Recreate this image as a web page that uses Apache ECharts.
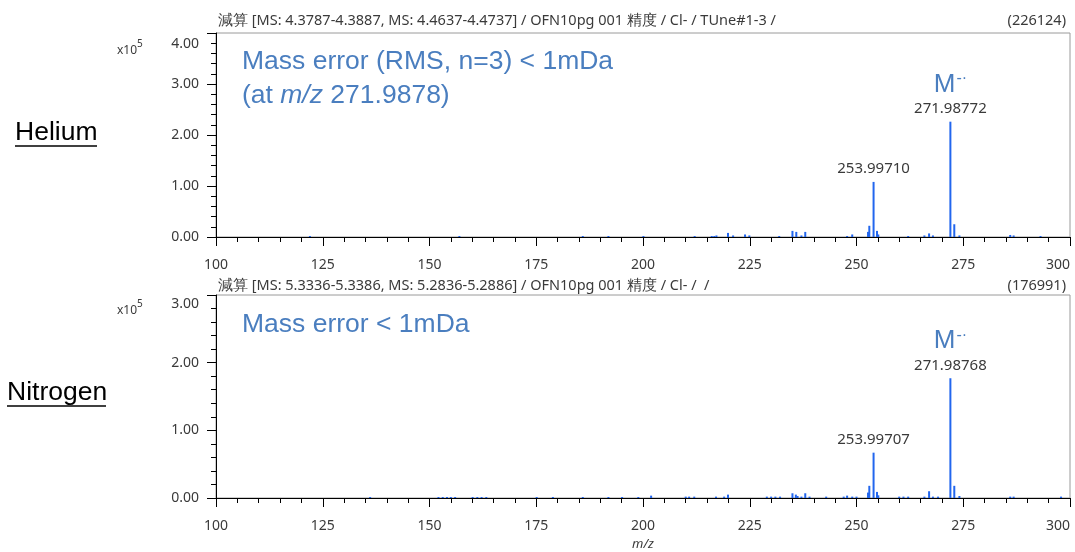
<!DOCTYPE html>
<html><head><meta charset="utf-8">
<script src="https://cdn.jsdelivr.net/npm/echarts@6/dist/echarts.min.js"></script>
<style>html,body{margin:0;padding:0;background:#fff}#c{width:1075px;height:552px}</style>
</head><body><div id="c"></div>
<script>
// ---- data (intensity in units of x10^5) ----
const xTickValues = [100, 125, 150, 175, 200, 225, 250, 275, 300];

const heMz  = [122.0,157.0,185.9,191.9,200.1,212.1,216.1,216.7,217.2,219.9,221.1,223.9,224.9,231.9,235.0,235.9,237.1,238.0,247.8,249.0,252.7,253.0,253.99710,254.8,255.1,262.1,265.9,267.0,267.9,271.98772,272.9,274.1,286.0,286.8,293.1];
const heInt = [0.02,0.02,0.02,0.02,0.02,0.02,0.02,0.02,0.03,0.08,0.03,0.05,0.03,0.02,0.12,0.10,0.03,0.10,0.02,0.05,0.10,0.22,1.08,0.12,0.05,0.02,0.03,0.07,0.03,2.26124,0.25,0.03,0.04,0.03,0.02];

const n2Mz  = [136.1,152.1,153.1,154.1,155.0,156.0,160.1,161.2,162.2,163.3,175.1,178.9,185.9,191.9,195.1,198.9,201.9,210.0,210.8,212.0,217.1,219.0,219.9,229.0,230.0,231.0,232.1,235.0,235.8,236.2,237.1,238.0,239.0,242.9,247.0,247.8,249.0,250.0,252.7,253.0,253.99707,254.8,255.1,260.0,261.0,262.1,265.9,267.0,267.9,269.1,271.98768,272.9,274.1,286.0,286.8,297.9];
const n2Int = [0.015,0.015,0.015,0.015,0.015,0.015,0.015,0.015,0.015,0.015,0.015,0.015,0.015,0.015,0.015,0.015,0.035,0.02,0.02,0.02,0.02,0.02,0.05,0.02,0.02,0.02,0.02,0.07,0.05,0.03,0.02,0.07,0.02,0.02,0.02,0.035,0.02,0.02,0.08,0.18,0.67,0.09,0.04,0.02,0.02,0.02,0.02,0.10,0.02,0.02,1.76991,0.18,0.03,0.02,0.02,0.02];

const heLabelled = [253.99710, 271.98772];
const n2Labelled = [253.99707, 271.98768];
const heIon = 271.98772;
const n2Ion = 271.98768;

const heTitle = '減算 [MS: 4.3787-4.3887, MS: 4.4637-4.4737] / OFN10pg 001 精度 / Cl- / TUne#1-3 /';
const heBase = '(226124)';
const n2Title = '減算 [MS: 5.3336-5.3386, MS: 5.2836-5.2886] / OFN10pg 001 精度 / Cl- /  /';
const n2Base = '(176991)';

const BLUE = '#4a7ebf';
const BAR = '#2266ee';
const TXT = '#3a3a3a';
const FONT = 'Noto Sans';
const BIG = 'Liberation Sans';

function buildData(mz, inten, labelled, ion) {
  return mz.map((m, i) => {
    const item = { value: [m, inten[i]] };
    if (labelled.indexOf(m) >= 0) {
      const isIon = m === ion;
      item.label = {
        show: true, position: 'top', distance: 3,
        formatter: isIon ? '{m|M}{s|-·}\n{v|' + m.toFixed(5) + '}' : '{v|' + m.toFixed(5) + '}',
        rich: {
          m: { fontSize: 26, color: BLUE, fontFamily: BIG, lineHeight: 28 },
          s: { fontSize: 16, color: BLUE, fontFamily: BIG, verticalAlign: 'top', lineHeight: 16, padding: [0, 0, 12, 1] },
          v: { fontSize: 15, color: TXT, fontFamily: FONT, lineHeight: 20 }
        }
      };
    }
    return item;
  });
}

function xAxis(gridIndex, withName) {
  return {
    type: 'value', gridIndex, min: 100, max: 300, interval: 25,
    axisLine: { lineStyle: { color: '#000', width: 1 } },
    axisTick: { show: true, length: 9, lineStyle: { color: '#000' } },
    minorTick: { show: true, splitNumber: 5, length: 5, lineStyle: { color: '#000' } },
    splitLine: { show: false },
    axisLabel: { color: TXT, fontSize: 14, fontFamily: FONT, margin: 21, alignMaxLabel: 'right' },
    name: withName ? 'm/z' : '', nameLocation: 'middle', nameGap: 40,
    nameTextStyle: { fontStyle: 'italic', fontSize: 13, color: TXT, fontFamily: FONT }
  };
}
function yAxis(gridIndex, max, topPad) {
  return {
    type: 'value', gridIndex, min: 0, max, interval: 1,
    axisLine: { show: true, lineStyle: { color: '#000', width: 1 } },
    axisTick: { show: true, length: 9, lineStyle: { color: '#000' } },
    minorTick: { show: true, splitNumber: 5, length: 5, lineStyle: { color: '#000' } },
    splitLine: { show: false },
    axisLabel: {
      color: TXT, fontSize: 14, fontFamily: FONT, margin: 17,
      formatter: v => v === max ? '{t|' + v.toFixed(2) + '}' : v.toFixed(2),
      rich: { t: { padding: [topPad, 0, 0, 0], fontSize: 14, color: TXT, fontFamily: FONT } }
    }
  };
}

const chart = echarts.init(document.getElementById('c'));
const txt = (x, y, text, size, color, extra) => Object.assign({
  type: 'text', x, y,
  style: Object.assign({ text, fontSize: size, fill: color, fontFamily: FONT, verticalAlign: 'middle' }, extra || {})
});
chart.setOption({
  animation: false,
  grid: [
    { left: 216, right: 5, top: 33, height: 204, show: true, borderColor: '#9a9a9a', borderWidth: 1, outerBoundsMode: 'none', containLabel: false },
    { left: 216, right: 5, top: 295, height: 203, show: true, borderColor: '#9a9a9a', borderWidth: 1, outerBoundsMode: 'none', containLabel: false }
  ],
  xAxis: [xAxis(0, false), xAxis(1, true)],
  yAxis: [yAxis(0, 4, 22), yAxis(1, 3, 18)],
  series: [
    { type: 'bar', xAxisIndex: 0, yAxisIndex: 0, barWidth: 2, itemStyle: { color: BAR }, data: buildData(heMz, heInt, heLabelled, heIon) },
    { type: 'bar', xAxisIndex: 1, yAxisIndex: 1, barWidth: 2, itemStyle: { color: BAR }, data: buildData(n2Mz, n2Int, n2Labelled, n2Ion) }
  ],
  graphic: [
    txt(218, 21, heTitle, 14.5, TXT),
    txt(1066, 21, heBase, 14.5, TXT, { align: 'right' }),
    txt(218, 286, n2Title, 14.5, TXT),
    txt(1066, 286, n2Base, 14.5, TXT, { align: 'right' }),
    txt(117, 51, 'x10', 12, TXT),
    txt(137, 44, '5', 10, TXT),
    txt(117, 311, 'x10', 12, TXT),
    txt(137, 304, '5', 10, TXT),
    txt(15, 133, 'Helium', 26.5, '#000', { fontFamily: BIG }),
    { type: 'line', shape: { x1: 15, y1: 146, x2: 97, y2: 146 }, style: { stroke: '#000', lineWidth: 1.5 } },
    txt(7, 393, 'Nitrogen', 26.5, '#000', { fontFamily: BIG }),
    { type: 'line', shape: { x1: 7, y1: 406, x2: 106, y2: 406 }, style: { stroke: '#000', lineWidth: 1.5 } },
    txt(242, 62, 'Mass error (RMS, n=3) < 1mDa', 26.5, BLUE, { fontFamily: BIG }),
    { type: 'text', x: 242, y: 96, style: {
      text: '{a|(at }{i|m/z}{a| 271.9878)}', verticalAlign: 'middle',
      rich: {
        a: { fontSize: 26.5, fill: BLUE, fontFamily: BIG },
        i: { fontSize: 26.5, fill: BLUE, fontFamily: BIG, fontStyle: 'italic' }
      } } },
    txt(242, 325, 'Mass error < 1mDa', 26.5, BLUE, { fontFamily: BIG })
  ]
});
</script></body></html>
